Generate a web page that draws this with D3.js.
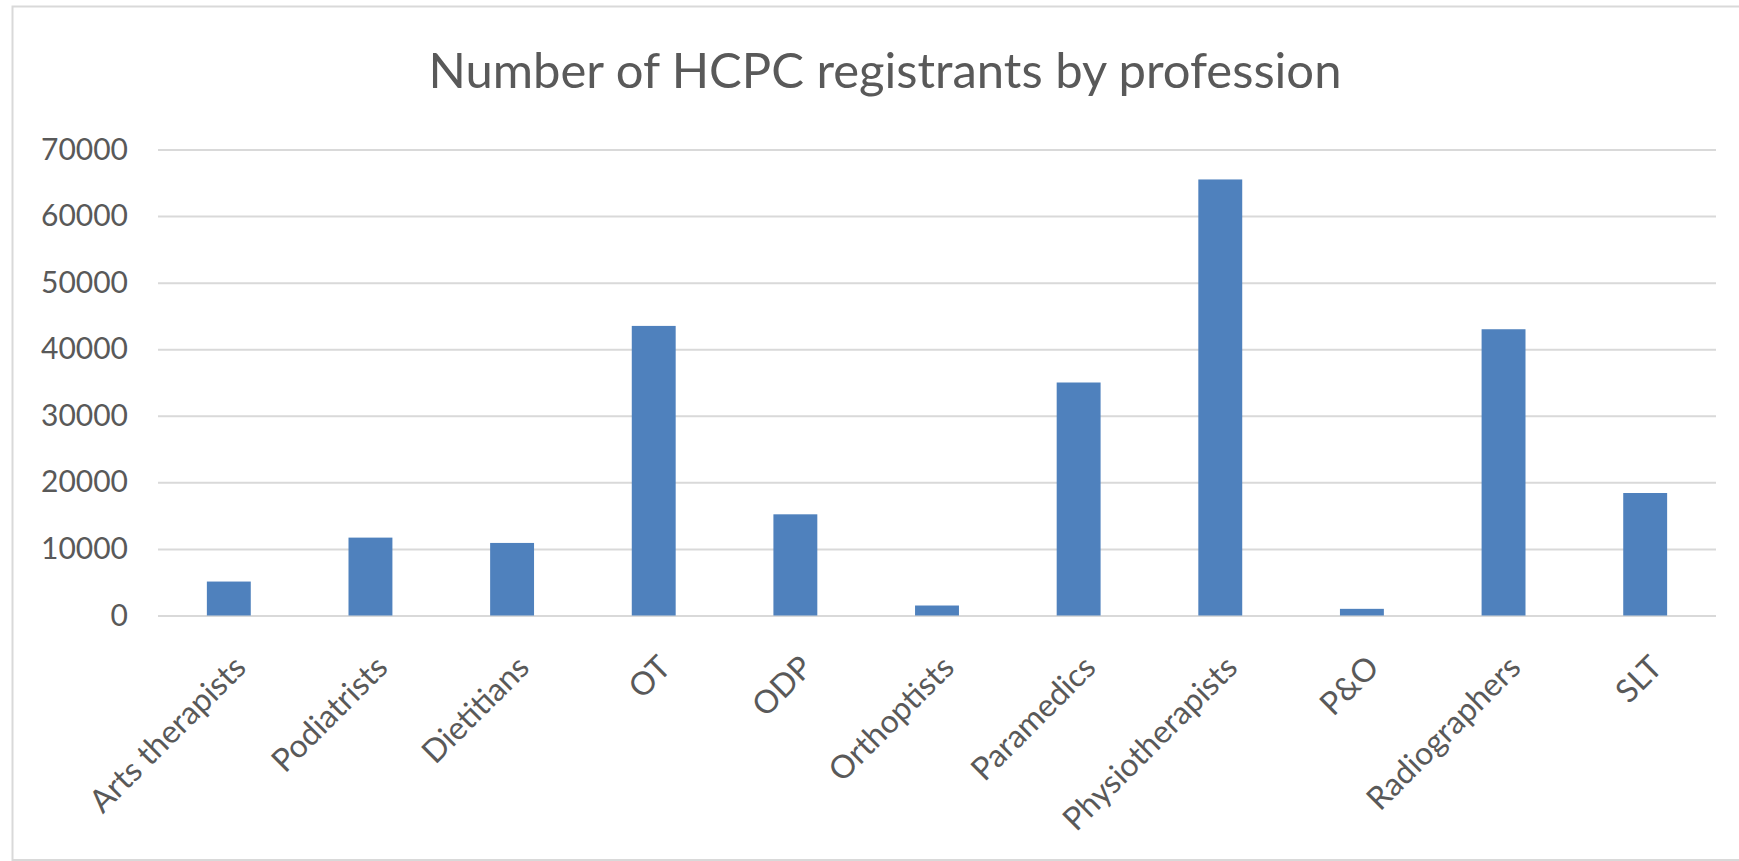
<!DOCTYPE html>
<html>
<head>
<meta charset="utf-8">
<script src="https://cdn.jsdelivr.net/npm/d3@7"></script>
<style>
  html, body { margin: 0; padding: 0; background: #fff; }
  svg { display: block; }
  text { font-family: Lato, "Open Sans", sans-serif; fill: #595959; }
</style>
</head>
<body>
<svg id="chart" width="1739" height="861"></svg>
<script>
// data
const professions = ["Arts therapists", "Podiatrists", "Dietitians", "OT", "ODP", "Orthoptists",
  "Paramedics", "Physiotherapists", "P&O", "Radiographers", "SLT"];
const registrants = [5100, 11700, 10900, 43500, 15200, 1500, 35000, 65500, 1000, 43000, 18400];
const yTicks = [0, 10000, 20000, 30000, 40000, 50000, 60000, 70000];
const chartTitle = "Number of HCPC registrants by profession";

const data = professions.map((name, i) => ({ name, value: registrants[i] }));

// dimensions
const W = 1739;
const H = 861;
const marginLeft = 158;
const marginRight = 23;
const plotTop = 149.5;
const plotBottom = 615.5;

const svg = d3.select('#chart');

// chart area border
svg.append('rect')
  .attr('x', 12.5)
  .attr('y', 6.5)
  .attr('width', W + 20)
  .attr('height', H - 7.5)
  .attr('fill', '#fff')
  .attr('stroke', '#d9d9d9')
  .attr('stroke-width', 2);

const xScale = d3.scaleBand()
  .domain(professions)
  .range([marginLeft, W - marginRight])
  .paddingInner(0.69)
  .paddingOuter(0.345);

const yScale = d3.scaleLinear()
  .domain([0, 70000])
  .range([plotBottom, plotTop]);

// gridlines + y labels
const yAxis = svg.append('g')
  .attr('transform', `translate(${marginLeft}, 0)`)
  .call(d3.axisLeft(yScale)
    .tickValues(yTicks)
    .tickSize(-(W - marginRight - marginLeft))
    .tickPadding(30)
    .tickFormat(d3.format('d')));

yAxis.select('.domain').remove();
yAxis.selectAll('line')
  .attr('stroke', '#d9d9d9')
  .attr('stroke-width', 2);
yAxis.selectAll('text')
  .attr('font-size', 30)
  .attr('fill', '#595959')
  .style('font-family', 'Lato, sans-serif');

// bars
svg.append('g')
  .selectAll('rect')
  .data(data)
  .enter()
  .append('rect')
  .attr('x', (d) => xScale(d.name))
  .attr('y', (d) => yScale(d.value))
  .attr('width', xScale.bandwidth())
  .attr('height', (d) => plotBottom - yScale(d.value))
  .attr('fill', '#4f81bd');

// x labels, rotated
svg.append('g')
  .selectAll('text')
  .data(data)
  .enter()
  .append('text')
  .attr('transform', (d) => {
    const cx = xScale(d.name) + xScale.bandwidth() / 2;
    return `translate(${cx + 19}, ${plotBottom + 54}) rotate(-45)`;
  })
  .attr('text-anchor', 'end')
  .attr('font-size', 32)
  .text((d) => d.name);

// title, sized to the reference's width
const title = svg.append('text')
  .attr('x', 885)
  .attr('y', 88)
  .attr('text-anchor', 'middle')
  .attr('font-size', 48)
  .text(chartTitle);
const tw = title.node().getComputedTextLength();
title.attr('font-size', 48 * 913 / tw);
</script>
</body>
</html>
